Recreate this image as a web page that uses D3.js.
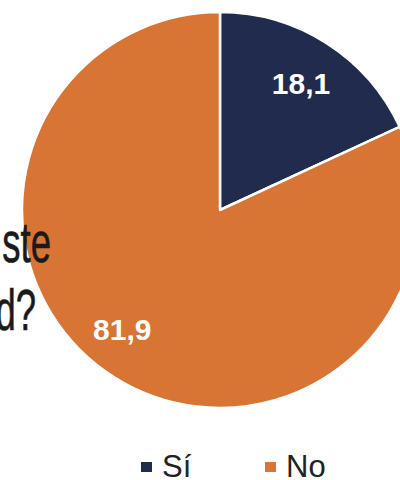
<!DOCTYPE html>
<html><head><meta charset="utf-8">
<script src="https://cdn.jsdelivr.net/npm/d3@7"></script>
<style>html,body{margin:0;padding:0;background:#fff;overflow:hidden}</style>
</head><body>
<svg id="c" width="400" height="480"></svg>
<script>
const categories = ["Sí", "No"];
const values = [18.1, 81.9];
const labels = ["18,1", "81,9"];
const colors = ["#202B4E", "#D87434"];
const titleFragments = ["ste", "d?"];

const svg = d3.select("#c");
const cx = 220, cy = 210, r = 198;
const pie = d3.pie().sort(null).value(d => d)(values);
const arc = d3.arc().innerRadius(0).outerRadius(r);
const g = svg.append("g").attr("transform", `translate(${cx},${cy})`);
g.selectAll("path").data(pie).join("path")
  .attr("d", arc).attr("fill", (d, i) => colors[i])
  .attr("stroke", "#fff").attr("stroke-width", 2.5).attr("stroke-linejoin", "round");

// label placement: radius factor and angular shift per slice
const labelRad = [0.76, 0.78];
const labelShift = [0, 0.117];
g.selectAll("text.lbl").data(pie).join("text").attr("class", "lbl")
  .attr("transform", (d, i) => {
    const a = (d.startAngle + d.endAngle) / 2 + labelShift[i];
    const rr = r * labelRad[i];
    return `translate(${rr * Math.sin(a)},${-rr * Math.cos(a)})`;
  })
  .attr("text-anchor", "middle").attr("dy", "0.36em")
  .attr("fill", "#fff").attr("font-family", "Liberation Sans, Arial, sans-serif")
  .attr("font-weight", "bold").attr("font-size", 30)
  .text((d, i) => labels[i]);

// Partially cut-off title text overlapping the pie
const tpos = [[51, 262], [36, 330]];
titleFragments.forEach((t, i) => {
  svg.append("text")
    .attr("transform", `translate(${tpos[i][0]},${tpos[i][1]}) scale(0.64,1)`)
    .attr("text-anchor", "end")
    .attr("font-family", "Liberation Sans, Arial, sans-serif")
    .attr("font-size", 57).attr("fill", "#1a1a1a")
    .attr("stroke", "#1a1a1a").attr("stroke-width", 0.6).text(t);
});

// Legend
const legX = [141, 265];
categories.forEach((c, i) => {
  svg.append("rect").attr("x", legX[i]).attr("y", 462).attr("width", 11).attr("height", 10).attr("fill", colors[i]);
  svg.append("text").attr("x", legX[i] + 21).attr("y", 477)
    .attr("font-family", "Liberation Sans, Arial, sans-serif").attr("font-size", 31)
    .attr("fill", "#222").text(c);
});
</script>
</body></html>
